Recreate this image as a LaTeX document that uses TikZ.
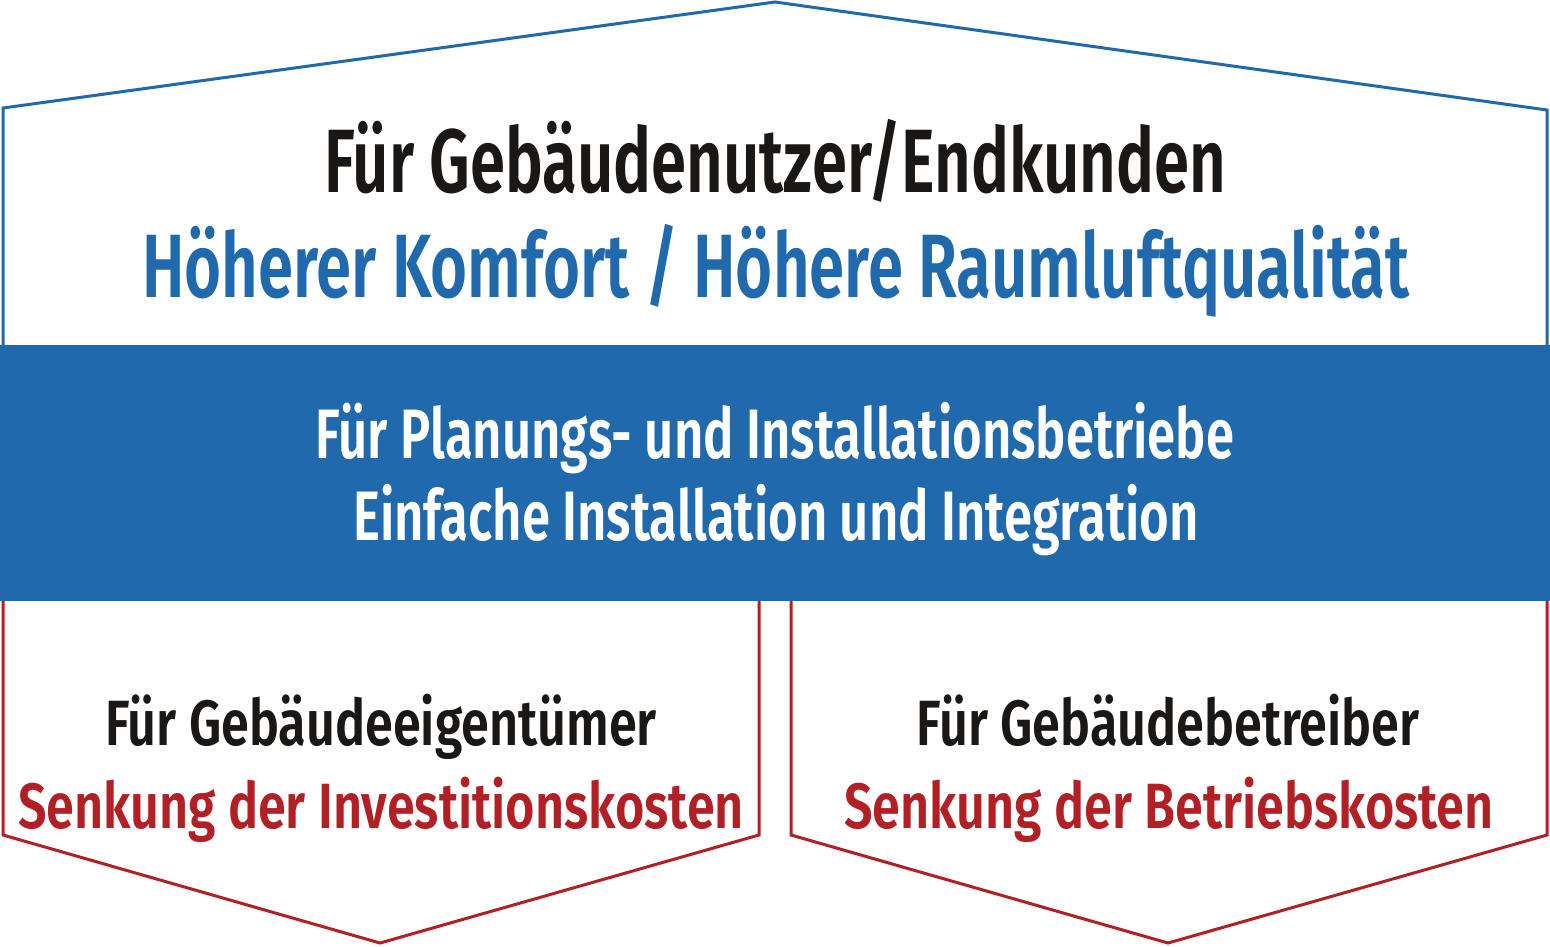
\documentclass[tikz,border=0pt]{standalone}
\usepackage{fontspec}
\setmainfont{Fira Sans}
\newfontfamily\topf[FakeStretch=0.705]{Fira Sans SemiBold}
\newfontfamily\midf[FakeStretch=0.726]{Fira Sans SemiBold}
\newfontfamily\botf[FakeStretch=0.787]{Fira Sans SemiBold}
\definecolor{cblue}{RGB}{33,105,173}
\definecolor{cred}{RGB}{178,31,36}
\definecolor{cblack}{RGB}{26,23,20}
\begin{document}
\begin{tikzpicture}[x=1pt,y=-1pt,
  outl/.style={line width=3pt,line join=miter},
  big/.style={font=\topf\fontsize{90}{90}\selectfont,inner sep=0pt,anchor=base},
  mid/.style={font=\midf\fontsize{70}{70}\selectfont,inner sep=0pt,anchor=base,text=white},
  sml/.style={font=\botf\fontsize{64}{64}\selectfont,inner sep=0pt,anchor=base}]
\useasboundingbox[fill=white] (0,0) rectangle (1550,946);
% top shape
\draw[outl,cblue] (3,345) -- (3,108) -- (775,2) -- (1547,110) -- (1547,345);
% band
\fill[cblue] (0,345) rectangle (1550,601);
% bottom shapes
\draw[outl,cred] (3,601) -- (3,835) -- (380,943) -- (759,835) -- (759,601);
\draw[outl,cred] (791,601) -- (791,835) -- (1168,943) -- (1547,835) -- (1547,601);
% texts
\node[big,text=cblack] (t1) at (775,192) {Für Gebäudenutzer/Endkunden};
\node[big,text=cblue] (t2) at (776,297) {Höherer Komfort / Höhere Raumluftqualität};
\node[mid] (m1) at (775,458) {Für Planungs- und Installationsbetriebe};
\node[mid] (m2) at (776,540) {Einfache Installation und Integration};
\node[sml,text=cblack] (l1) at (381,745) {Für Gebäudeeigentümer};
\node[sml,text=cred] (l2) at (381,828) {Senkung der Investitionskosten};
\node[sml,text=cblack] (r1) at (1168,745) {Für Gebäudebetreiber};
\node[sml,text=cred] (r2) at (1169,828) {Senkung der Betriebskosten};
\end{tikzpicture}
\end{document}
